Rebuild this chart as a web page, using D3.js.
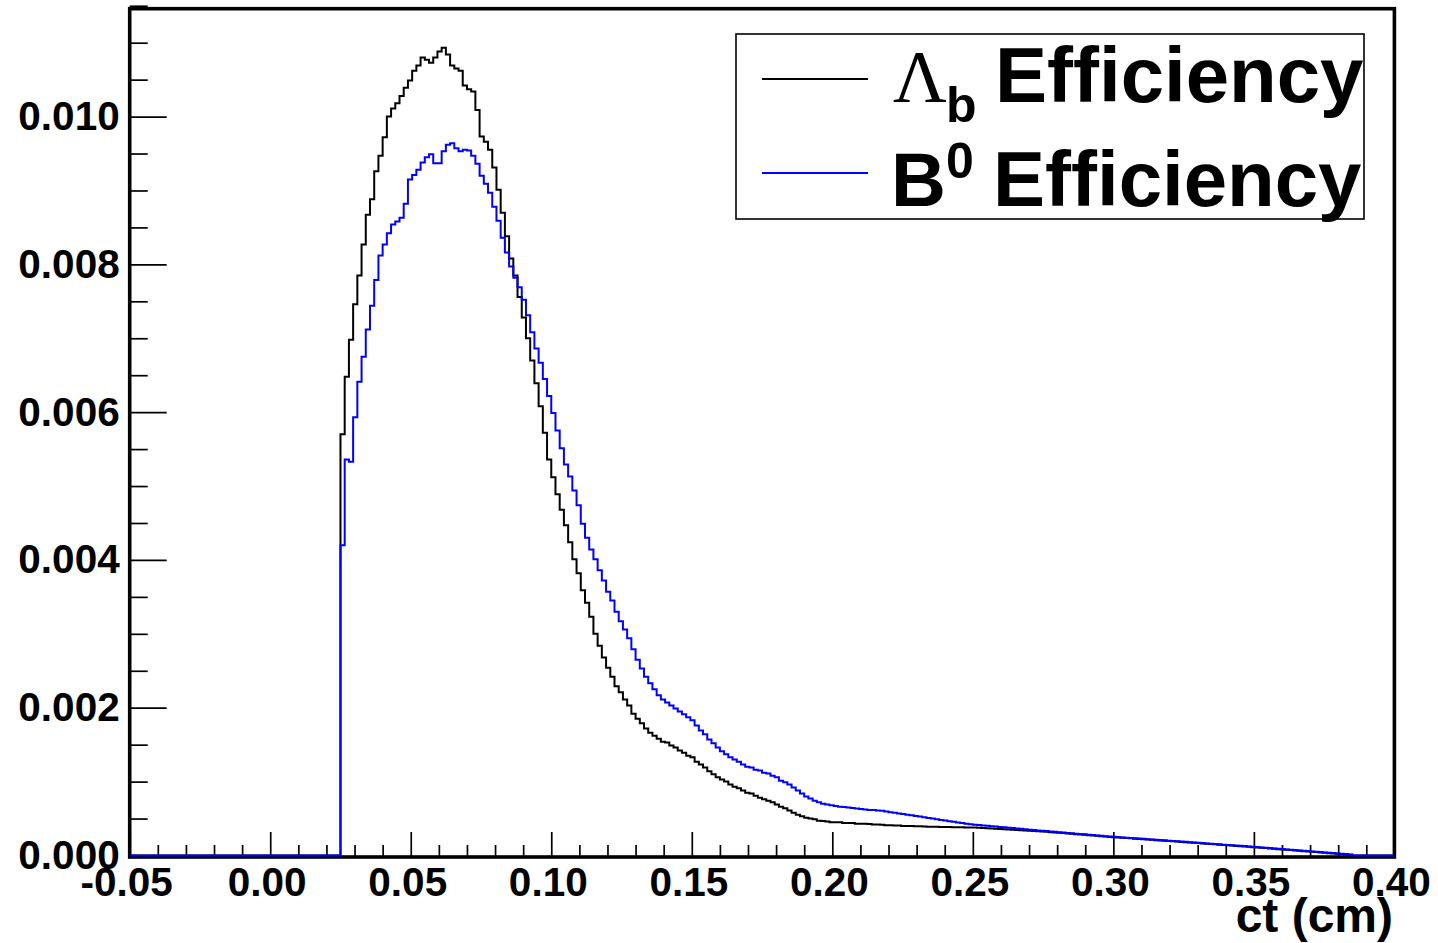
<!DOCTYPE html>
<html><head><meta charset="utf-8">
<script src="https://cdn.jsdelivr.net/npm/d3@7"></script>
<style>body{margin:0;background:#fff}</style>
</head><body><svg id="c" width="1438" height="943"></svg>
<script>
// Histogram binning (ct in cm)
const binStart = -0.05, binWidth = 0.0015;

// Lambda_b efficiency per bin (300 bins from -0.05 to 0.40)
const lambdaB = [
0,0,0,0,0,0,0,0,0,0, 0,0,0,0,0,0,0,0,0,0, 0,0,0,0,0,0,0,0,0,0, 0,0,0,0,0,0,0,0,0,0, 0,0,0,0,0,0,0,0,0,0,
0.00570,0.00648,0.00698,0.00746,0.00785,0.00827,0.00867,0.00888,0.00926,0.00947,
0.00972,0.01000,0.01011,0.01018,0.01028,0.01039,0.01049,0.01062,0.01069,0.01080,
0.01077,0.01073,0.01080,0.01088,0.01093,0.01084,0.01069,0.01065,0.01062,0.01042,
0.01037,0.01034,0.01009,0.00973,0.00966,0.00955,0.00931,0.00901,0.00870,0.00838,
0.00808,0.00785,0.00756,0.00728,0.00700,0.00670,0.00639,0.00608,0.00572,0.00536,
0.00512,0.00489,0.00468,0.00447,0.00424,0.00401,0.00382,0.00359,0.00342,0.00323,
0.00300,0.00284,0.00268,0.00254,0.00242,0.00229,0.00221,0.00211,0.00203,0.00192,
0.00185,0.00179,0.00172,0.00166,0.00162,0.00158,0.00154,0.00153,0.00149,0.00146,
0.00142,0.00139,0.00135,0.00133,0.00127,0.00123,0.00119,0.00114,0.00110,0.00106,
0.00103,0.00100,0.00096,0.00093,0.00091,0.00088,0.00085,0.00084,0.00081,0.00078,
0.00076,0.00074,0.00072,0.00069,0.00066,0.00064,0.00061,0.00058,0.00055,0.00053,
0.00051,0.00050,0.00049,0.00047,0.000467,0.00046,0.00045,0.00045,0.00045,0.00044,
0.00044,0.00044,0.00043,0.00043,0.00043,0.000425,0.00042,0.00042,0.000415,0.00041,
0.00041,0.000405,0.000405,0.00040,0.00040,0.000398,0.000395,0.000395,0.000392,0.00039,
0.00039,0.000388,0.000387,0.000385,0.000385,0.000384,0.000383,0.000382,0.00038,0.00038,
0.000378,0.000376,0.000372,0.000369,0.000365,0.000362,0.000358,0.000355,0.000351,0.000348,
0.000345,0.000341,0.000338,0.000334,0.000331,0.000328,0.000324,0.000321,0.000316,0.000312,
0.000307,0.000303,0.000298,0.000293,0.000289,0.000284,0.000280,0.000275,0.000270,0.000266,
0.000261,0.000257,0.000252,0.000248,0.000244,0.000240,0.000236,0.000232,0.000228,0.000224,
0.000220,0.000216,0.000212,0.000208,0.000204,0.000200,0.000196,0.000192,0.000188,0.000184,
0.000180,0.000176,0.000172,0.000168,0.000163,0.000159,0.000155,0.000151,0.000147,0.000142,
0.000138,0.000134,0.000130,0.000126,0.000122,0.000118,0.000113,0.000109,0.000104,0.000100,
0.000095,0.000091,0.000086,0.000082,0.000077,0.000073,0.000068,0.000064,0.000059,0.000055,
0.000050,0.000046,0.000041,0.000037,0.000032,0.000028,0.000023,0.000019,0.000014,0.000010,
0,0,0,0,0,0,0,0,0,0
];

// B0 efficiency per bin
const b0 = [
0,0,0,0,0,0,0,0,0,0, 0,0,0,0,0,0,0,0,0,0, 0,0,0,0,0,0,0,0,0,0, 0,0,0,0,0,0,0,0,0,0, 0,0,0,0,0,0,0,0,0,0,
0.00420,0.00536,0.00533,0.00593,0.00641,0.00675,0.00712,0.00744,0.00779,0.00812,
0.00827,0.00842,0.00854,0.00858,0.00863,0.00882,0.00915,0.00921,0.00928,0.00938,
0.00945,0.00949,0.00937,0.00937,0.00953,0.00962,0.00964,0.00957,0.00953,0.00955,
0.00954,0.00947,0.00936,0.00920,0.00909,0.00897,0.00878,0.00859,0.00836,0.00816,
0.00797,0.00782,0.00769,0.00752,0.00731,0.00708,0.00686,0.00667,0.00645,0.00622,
0.00599,0.00575,0.00551,0.00529,0.00513,0.00494,0.00474,0.00449,0.00430,0.00414,
0.00401,0.00386,0.00372,0.00357,0.00345,0.00330,0.00317,0.00306,0.00294,0.00279,
0.00265,0.00253,0.00242,0.00233,0.00225,0.00217,0.00211,0.00207,0.00203,0.00199,
0.00195,0.00191,0.00187,0.00183,0.00176,0.00169,0.00164,0.00157,0.00152,0.00146,
0.00141,0.00137,0.00133,0.00130,0.00127,0.00123,0.00120,0.00119,0.00116,0.00115,
0.00112,0.00111,0.00108,0.00106,0.00101,0.00099,0.00096,0.00092,0.00088,0.00084,
0.00080,0.00077,0.00074,0.00072,0.00070,0.00069,0.00068,0.00067,0.00066,0.000655,
0.00065,0.000643,0.000636,0.00063,0.000622,0.000617,0.000615,0.00061,0.000605,0.000595,
0.000585,0.000577,0.000568,0.00056,0.000552,0.000545,0.000536,0.000527,0.000518,0.000509,
0.00050,0.000491,0.000482,0.000473,0.000464,0.000456,0.000447,0.000439,0.00043,0.000423,
0.000417,0.000412,0.000407,0.000402,0.000396,0.000391,0.000386,0.000381,0.000376,0.000371,
0.000366,0.000361,0.000356,0.000350,0.000345,0.000340,0.000335,0.000330,0.000325,0.000320,
0.000315,0.000310,0.000306,0.000301,0.000296,0.000291,0.000286,0.000282,0.000277,0.000272,
0.000267,0.000262,0.000258,0.000253,0.000249,0.000245,0.000241,0.000237,0.000233,0.000229,
0.000225,0.000221,0.000217,0.000213,0.000209,0.000205,0.000201,0.000197,0.000193,0.000189,
0.000185,0.000181,0.000177,0.000173,0.000168,0.000164,0.000160,0.000156,0.000152,0.000147,
0.000143,0.000139,0.000135,0.000131,0.000127,0.000123,0.000118,0.000114,0.000109,0.000105,
0.000100,0.000096,0.000091,0.000087,0.000082,0.000078,0.000073,0.000069,0.000064,0.000060,
0.000055,0.000051,0.000046,0.000042,0.000037,0.000033,0.000028,0.000024,0.000019,0.000015,
0,0,0,0,0,0,0,0,0,0
];

const xTickValues = [-0.05, 0.00, 0.05, 0.10, 0.15, 0.20, 0.25, 0.30, 0.35, 0.40];
const xTickLabels = ["-0.05","0.00","0.05","0.10","0.15","0.20","0.25","0.30","0.35","0.40"];
const yTickValues = [0.000, 0.002, 0.004, 0.006, 0.008, 0.010];
const yTickLabels = ["0.000","0.002","0.004","0.006","0.008","0.010"];
const xTitle = "ct (cm)";
const legendMain = ["\u039B", "B"];
const legendScript = ["b", "0"];
const legendText = "Efficiency";
const seriesColors = ["#000000", "#0000ff"];

const svg = d3.select("#c");
svg.append("rect").attr("width",1438).attr("height",943).attr("fill","#fff");

const L = 129.7, R = 1394.4, T = 8.7, B = 857;
const x = d3.scaleLinear().domain([-0.05, 0.40]).range([L, R]);
const y = d3.scaleLinear().domain([0, 0.01146]).range([855.5, T]);
const font = "'Liberation Sans', Arial, Helvetica, sans-serif";

// Frame
svg.append("rect").attr("x",L).attr("y",T).attr("width",R-L).attr("height",B-T)
  .attr("fill","none").attr("stroke","#000").attr("stroke-width",3.6);

// X axis
const xMinor = d3.range(-0.05, 0.4001, 0.01).filter(v => xTickValues.every(t => Math.abs(t-v) > 1e-6));
const gxm = svg.append("g").attr("transform",`translate(0,${B})`)
  .call(d3.axisBottom(x).tickValues(xMinor).tickSize(-12).tickFormat(""));
gxm.select(".domain").remove();
gxm.selectAll("line").attr("stroke","#000").attr("stroke-width",1.7);

const gx = svg.append("g").attr("transform",`translate(0,${B})`)
  .call(d3.axisBottom(x).tickValues(xTickValues).tickFormat((d,i)=>xTickLabels[i]).tickSize(-25).tickPadding(10));
gx.select(".domain").remove();
gx.selectAll("line").attr("stroke","#000").attr("stroke-width",1.7);
gx.selectAll("text").attr("font-family",font).attr("font-weight","bold").attr("font-size",40.5)
  .attr("x",-3.5).attr("fill","#000");

// Y axis
const yMinor = d3.range(0, 0.01151, 0.0005).filter(v => yTickValues.every(t => Math.abs(t-v) > 1e-7));
const gym = svg.append("g").attr("transform",`translate(${L},0)`)
  .call(d3.axisLeft(y).tickValues(yMinor).tickSize(-18).tickFormat(""));
gym.select(".domain").remove();
gym.selectAll("line").attr("stroke","#000").attr("stroke-width",1.7);

const gy = svg.append("g").attr("transform",`translate(${L},0)`)
  .call(d3.axisLeft(y).tickValues(yTickValues).tickFormat((d,i)=>yTickLabels[i]).tickSize(-37).tickPadding(10));
gy.select(".domain").remove();
gy.selectAll("line").attr("stroke","#000").attr("stroke-width",1.7);
gy.selectAll("text").attr("font-family",font).attr("font-weight","bold").attr("font-size",40.5).attr("fill","#000");

// X title
svg.append("text").attr("x",1393).attr("y",932).attr("text-anchor","end")
  .attr("font-family",font).attr("font-weight","bold").attr("font-size",48).text(xTitle);

// Histograms
function stepPoints(vals){
  const p = vals.map((v,i)=>[binStart + i*binWidth, v]);
  p.push([binStart + vals.length*binWidth, vals[vals.length-1]]);
  return p;
}
const line = d3.line().x(d=>x(d[0])).y(d=>y(d[1])).curve(d3.curveStepAfter);
[lambdaB, b0].forEach((s,k)=>{
  svg.append("path").attr("d", line(stepPoints(s))).attr("fill","none")
    .attr("stroke", seriesColors[k]).attr("stroke-width",2).attr("stroke-linejoin","miter");
});

// Legend
svg.append("rect").attr("x",736).attr("y",34).attr("width",628).attr("height",185)
  .attr("fill","#fff").attr("stroke","#000").attr("stroke-width",1.6);
const rowY = [102, 206];
const sampleY = [79, 173];
for (let k=0;k<2;k++){
  svg.append("line").attr("x1",762).attr("x2",868).attr("y1",sampleY[k]).attr("y2",sampleY[k])
    .attr("stroke",seriesColors[k]).attr("stroke-width",2);
  const isLambda = k===0;
  svg.append("text").attr("x", isLambda ? 893 : 891).attr("y", rowY[k])
    .attr("font-family", isLambda ? "'Liberation Serif', 'Times New Roman', serif" : font)
    .attr("font-weight", isLambda ? "normal" : "bold")
    .attr("font-size", isLambda ? 74 : 76).text(legendMain[k]);
  svg.append("text").attr("x", isLambda ? 946 : 946).attr("y", isLambda ? 122 : 178)
    .attr("font-family",font).attr("font-weight","bold").attr("font-size",50).text(legendScript[k]);
  svg.append("text").attr("x", isLambda ? 995 : 993).attr("y", rowY[k])
    .attr("font-family",font).attr("font-weight","bold").attr("font-size",78).text(legendText);
}
</script>
</body></html>
